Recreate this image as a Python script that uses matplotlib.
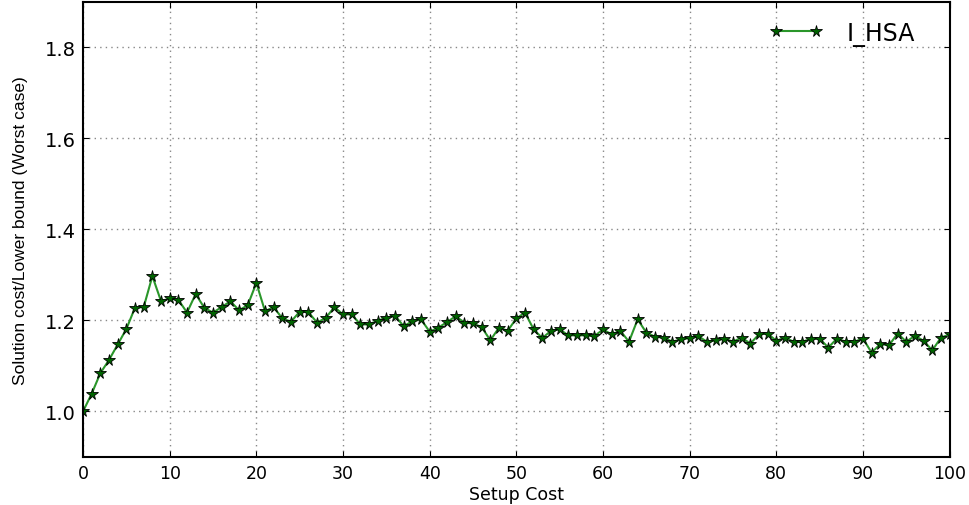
import matplotlib
matplotlib.use("Agg")
from matplotlib import pyplot as plt

# setup cost (x) and ratio solution/lower bound (worst case)
setup_cost = list(range(0, 101))
ratio = [
    1.000, 1.039, 1.084, 1.113, 1.147, 1.181, 1.228, 1.229, 1.297, 1.242,
    1.248, 1.245, 1.217, 1.258, 1.227, 1.217, 1.229, 1.242, 1.222, 1.233,
    1.282, 1.220, 1.229, 1.204, 1.197, 1.219, 1.218, 1.195, 1.205, 1.229,
    1.213, 1.213, 1.191, 1.191, 1.199, 1.206, 1.210, 1.187, 1.198, 1.202,
    1.175, 1.184, 1.196, 1.209, 1.195, 1.193, 1.185, 1.156, 1.184, 1.177,
    1.204, 1.217, 1.180, 1.161, 1.177, 1.180, 1.167, 1.167, 1.167, 1.165,
    1.180, 1.169, 1.177, 1.153, 1.202, 1.173, 1.164, 1.162, 1.153, 1.158,
    1.161, 1.165, 1.153, 1.156, 1.160, 1.153, 1.162, 1.149, 1.169, 1.171,
    1.155, 1.162, 1.153, 1.153, 1.159, 1.160, 1.140, 1.160, 1.153, 1.153,
    1.160, 1.129, 1.148, 1.145, 1.171, 1.153, 1.166, 1.155, 1.134, 1.162,
    1.169,
]
serie_nome = "I_HSA"
y_ticks = [1.0, 1.2, 1.4, 1.6, 1.8]
x_ticks = [0, 10, 20, 30, 40, 50, 60, 70, 80, 90, 100]

fig = plt.figure(figsize=(9.69, 5.06), dpi=100)
ax = fig.add_axes([0.0857, 0.095, 0.8943, 0.9])

ax.plot(setup_cost, ratio, color="#2a962a", linewidth=1.5, marker="*",
        markersize=8.5, markerfacecolor="#006400", markeredgecolor="black",
        markeredgewidth=0.6, label=serie_nome)

ax.set_xlim(0, 100)
ax.set_ylim(0.9, 1.9)
ax.set_xticks(x_ticks)
ax.set_yticks(y_ticks)
ax.tick_params(direction="in", top=True, right=True, length=4, labelsize=12.5, pad=5)
for lbl in ax.get_yticklabels():
    lbl.set_fontsize(14)

ax.grid(True, color="#888888", linestyle=(0, (1, 3)), linewidth=1.0)
for s in ax.spines.values():
    s.set_linewidth(1.5)

ax.set_xlabel("Setup Cost", fontsize=12.5, labelpad=2)
# o label do y no original eh mais estreito, Liberation Sans chega perto
ax.set_ylabel("Solution cost/Lower bound (Worst case)", fontsize=12.5,
              family=["Liberation Sans", "DejaVu Sans"], labelpad=12)

ax.legend(loc="upper right", frameon=False, numpoints=2, fontsize=17,
          handlelength=2.3, handletextpad=1.0, bbox_to_anchor=(0.985, 1.005))

fig.savefig("out.png", dpi=100)
